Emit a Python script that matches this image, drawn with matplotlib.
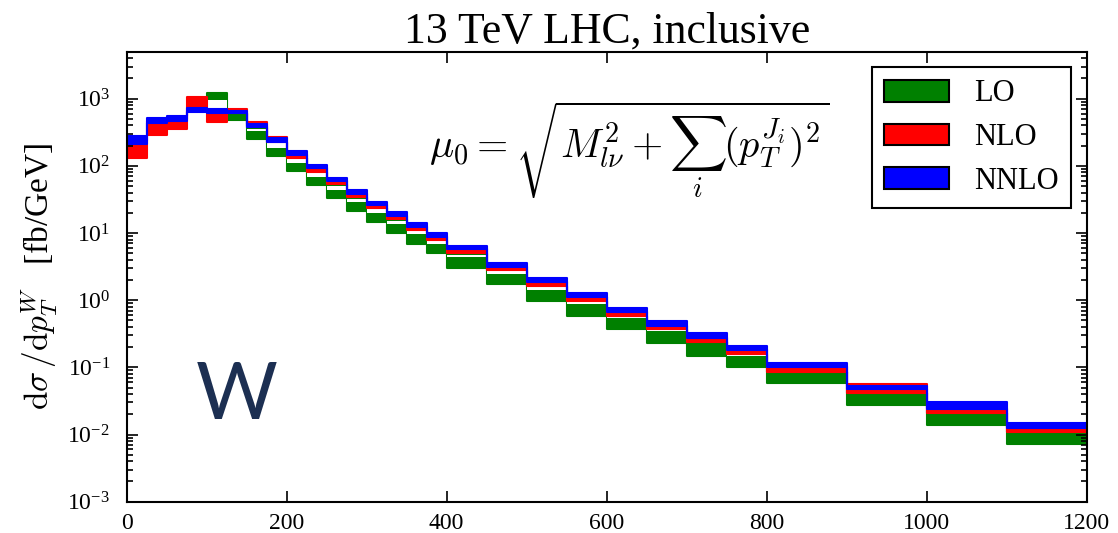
import numpy as np
import matplotlib
matplotlib.use("Agg")
import matplotlib.pyplot as plt
from matplotlib.patches import Patch

plt.rcParams['font.family'] = ['Liberation Serif', 'DejaVu Serif']
plt.rcParams['mathtext.fontset'] = 'custom'
plt.rcParams['mathtext.rm'] = 'Liberation Serif'
plt.rcParams['mathtext.it'] = 'Liberation Serif:italic'
plt.rcParams['mathtext.bf'] = 'Liberation Serif:bold'
plt.rcParams['axes.unicode_minus'] = False

nan = np.nan

# pT bin edges [GeV]
edges = [0, 25, 50, 75, 100, 125, 150, 175, 200, 225, 250, 275, 300, 325, 350,
         375, 400, 450, 500, 550, 600, 650, 700, 750, 800, 900, 1000, 1100, 1200]

# scale-variation bands, dsigma/dpT [fb/GeV]
nnlo_hi = [275, 515, 550, 730, 690, 660, 418, 256, 165, 102, 65, 43.5, 29, 20.3,
           13.9, 9.9, 6.4, 3.53, 2.11, 1.26, 0.77, 0.489, 0.321, 0.209, 0.117,
           0.053, 0.030, 0.0147]
nnlo_lo = [210, 430, 470, 640, 620, 605, 378, 228, 144, 91.5, 59, 38, 26, 18,
           12.4, 8.8, 5.7, 3.14, 1.84, 1.10, 0.67, 0.416, 0.275, 0.181, 0.100,
           0.047, 0.0237, 0.0126]
nlo_hi = [235, 470, 500, 1050, 660, 710, 450, 270, 150, 95, 61, 40, 27, 18.5,
          12.8, 9.1, 5.9, 3.2, 1.9, 1.13, 0.69, 0.43, 0.285, 0.19, 0.104,
          0.056, 0.025, 0.0129]
nlo_lo = [130, 290, 350, 660, 450, 610, 390, 230, 131, 81, 53, 34.6, 23.7, 16.1,
          11.0, 7.84, 4.97, 2.81, 1.62, 0.97, 0.586, 0.372, 0.240, 0.158, 0.086,
          0.042, 0.0206, 0.011]
lo_hi = [nan, nan, nan, nan, 1200, 600, 364, 220, 129, 79, 51, 33.4, 23.2, 15.6,
         10.8, 7.66, 4.85, 2.74, 1.58, 0.947, 0.566, 0.359, 0.236, 0.155, 0.086,
         0.0419, 0.0206, 0.011]
lo_lo = [nan, nan, nan, nan, 660, 480, 250, 141, 83.4, 51.6, 32.7, 21.4, 14.4,
         9.87, 6.84, 4.97, 3.03, 1.72, 0.97, 0.586, 0.367, 0.232, 0.149, 0.100,
         0.0578, 0.0275, 0.0138, 0.0072]
# white gap seen inside the LO band
gap_hi = [nan, nan, nan, nan, 970, nan, 358, 216, 127, 77, 49.5, 32.5, 22.7, 15.3,
          10.6, 7.5, 4.75, 2.7, 1.56, 0.935, 0.56, 0.356, 0.233, 0.153, 0.085,
          nan, nan, nan]
gap_lo = [nan, nan, nan, nan, 700, nan, 330, 182, 109, 68.6, 43.5, 29, 20, 13.6,
          9.6, 6.84, 4.33, 2.42, 1.41, 0.875, 0.547, 0.351, 0.228, 0.150, 0.084,
          nan, nan, nan]


def band(ax, lo, hi, color, start=0):
    x = np.array(edges[start:], dtype=float)
    lo = np.array(lo[start:], dtype=float)
    hi = np.array(hi[start:], dtype=float)
    ax.fill_between(x, np.append(lo, lo[-1]), np.append(hi, hi[-1]), step='post',
                    facecolor=color, edgecolor=color, linewidth=1.5)


fig = plt.figure(figsize=(11.18, 5.33), dpi=100)
ax = fig.add_subplot(111)
fig.subplots_adjust(left=0.1133, right=0.972, top=0.903, bottom=0.0587)

band(ax, lo_lo, lo_hi, 'green', start=4)
widths = np.diff(edges)
ax.bar(edges[:-1], np.array(gap_hi) - np.array(gap_lo), bottom=gap_lo,
       width=widths, align='edge', color='white', linewidth=0)
band(ax, nlo_lo, nlo_hi, 'red')
band(ax, nnlo_lo, nnlo_hi, 'blue')

ax.set_yscale('log')
ax.set_xlim(0, 1200)
ax.set_ylim(1e-3, 5e3)
ax.set_xticks(range(0, 1201, 200))

ax.tick_params(which='both', direction='in', top=True, right=True, width=1.2)
ax.tick_params(which='major', length=8, labelsize=17)
ax.tick_params(which='minor', length=4)
ax.tick_params(axis='y', pad=12)
ax.tick_params(axis='x', pad=8)
for s in ax.spines.values():
    s.set_linewidth(1.5)

ax.set_title('13 TeV LHC, inclusive', fontsize=31.5, pad=6)
ax.set_ylabel(r'$\mathrm{d}\sigma\,/\mathrm{d}p_T^W$   [fb/GeV]', fontsize=24,
              math_fontfamily='cm')
ax.yaxis.set_label_coords(-0.069, 0.5)

ax.text(0.524, 0.78, r'$\mu_0 = \sqrt{M_{l\nu}^2 + \sum_i (p_T^{J_i})^2}$',
        transform=ax.transAxes, fontsize=29, ha='center', va='center',
        math_fontfamily='cm')
ax.text(0.115, 0.232, 'W', transform=ax.transAxes, fontsize=57, color='#1c2f52',
        family='Lato', ha='center', va='center')

handles = [Patch(facecolor='green', edgecolor='black', linewidth=1.5),
           Patch(facecolor='red', edgecolor='black', linewidth=1.5),
           Patch(facecolor='blue', edgecolor='black', linewidth=1.5)]
leg = ax.legend(handles, ['LO', 'NLO', 'NNLO'], loc='upper right', fontsize=22,
                fancybox=False, framealpha=1, edgecolor='black',
                handlelength=2.1, handleheight=0.73, handletextpad=0.85,
                labelspacing=0.49, borderpad=0.4)
leg.get_frame().set_linewidth(1.5)

fig.savefig('out.png', dpi=100)
